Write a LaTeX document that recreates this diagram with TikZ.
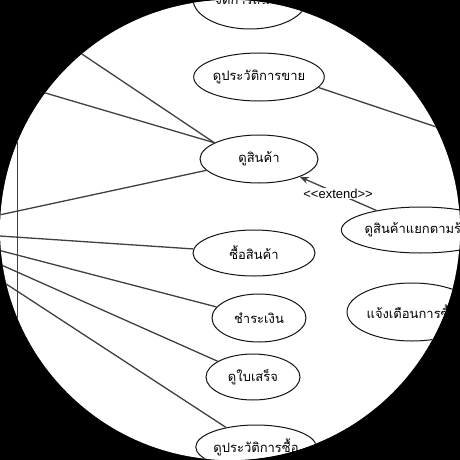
\documentclass[tikz,border=0pt]{standalone}
\usepackage{fontspec}
\usepackage{tikz}
\usetikzlibrary{shapes.geometric}
\usetikzlibrary{arrows.meta}
\newfontfamily\thaifont[Script=Thai]{Loma}
\setsansfont{Liberation Sans}
\definecolor{linegray}{RGB}{64, 64, 64}
\definecolor{edgeblack}{RGB}{20, 20, 20}

\begin{document}
\begin{tikzpicture}[x=1pt, y=-1pt,
        usecase/.style={ellipse, draw=edgeblack, line width=1pt, fill=white, inner sep=0pt,
                        font=\thaifont\fontsize{13}{15}\selectfont},
        assoc/.style={draw=linegray, line width=1.3pt}]
            \useasboundingbox (0,0) rectangle (460,460);
            % Background
            \fill[black] (0,0) rectangle (460,460);
            \begin{scope}
            \clip (230,230) circle (230);
            \fill[white] (0,0) rectangle (460,460);
            % System boundary
            \draw[linegray, line width=0.8pt]                                 (17,-40) rectangle (640,640);
            % Use cases
            \node[usecase, minimum width=114pt, minimum height=60pt] (manage)   at (250, -1) {จัดการสินค้า};
            \node[usecase, minimum width=128pt, minimum height=48pt] (salehist) at (259, 77) {ดูประวัติการขาย};
            \node[usecase, minimum width=118pt, minimum height=48pt] (view)     at (259,159) {ดูสินค้า};
            \node[usecase, minimum width=122pt, minimum height=46pt] (buy)      at (254,253) {ซื้อสินค้า};
            \node[usecase, minimum width= 94pt, minimum height=48pt] (pay)      at (259,318) {ชำระเงิน};
            \node[usecase, minimum width= 94pt, minimum height=46pt] (receipt)  at (253,377) {ดูใบเสร็จ};
            \node[usecase, minimum width=112pt, minimum height=44pt] (buyhist)  at (256,447) {ดูประวัติการซื้อ};
            \node[usecase, minimum width=150pt, minimum height=46pt] (bycat)    at (421,230) {ดูสินค้าแยกตามร้าน};
            \node[usecase, minimum width=130pt, minimum height=58pt] (notify)   at (412,312) {แจ้งเตือนการซื้อ};
            % Actors, out of view
            \coordinate (customer) at (-75,231);
            \coordinate (staff)    at (-60,-41);
            \coordinate (guest)    at (-60, 62);
            \coordinate (seller)   at (520,155);
            % Associations
            \draw[assoc] (staff)    -- (view.160);
            \draw[assoc] (guest)    -- (view.160);
            \draw[assoc] (customer) -- (view);
            \draw[assoc] (customer) -- (buy);
            \draw[assoc] (customer) -- (pay);
            \draw[assoc] (customer) -- (receipt);
            \draw[assoc] (customer) -- (buyhist);
            \draw[assoc] (salehist.-10) -- (seller);
            % Extend
            \draw[assoc, -{Stealth[length=9pt, width=7pt]}] (bycat) -- (view)
                 node[midway, fill=white, inner sep=1pt, text=black,
                      font=\sffamily\fontsize{13}{15}\selectfont] {<\kern0pt<extend>\kern0pt>};
            \end{scope}
\end{tikzpicture}
\end{document}
